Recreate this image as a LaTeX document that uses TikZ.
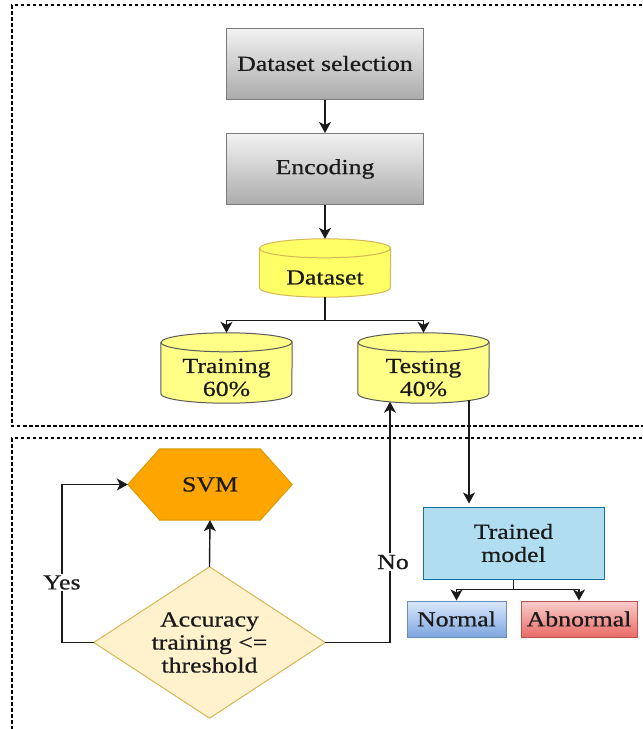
\documentclass[tikz,border=0pt]{standalone}
\usepackage{fontspec}
\setmainfont{Liberation Serif}[FakeStretch=1.2,FakeBold=0.6]
\usetikzlibrary{arrows.meta,backgrounds,calc}

\definecolor{greytop}{HTML}{F2F2F2}
\definecolor{greybot}{HTML}{ABABAB}
\definecolor{greyline}{HTML}{7A7A7A}
\definecolor{dsfill}{HTML}{FFFF66}
\definecolor{dsline}{HTML}{D6B656}
\definecolor{cylfill}{HTML}{FFFF88}
\definecolor{cylline}{HTML}{5A5A5A}
\definecolor{tmfill}{HTML}{B1DDF0}
\definecolor{tmline}{HTML}{10739E}
\definecolor{normtop}{HTML}{DAE8FC}
\definecolor{normbot}{HTML}{7EA6E0}
\definecolor{normline}{HTML}{6C8EBF}
\definecolor{abntop}{HTML}{F8CECC}
\definecolor{abnbot}{HTML}{EA6B66}
\definecolor{abnline}{HTML}{B85450}
\definecolor{svmfill}{HTML}{FFA500}
\definecolor{svmline}{HTML}{D79B00}
\definecolor{diafill}{HTML}{FFF2CC}
\definecolor{dialine}{HTML}{D6B656}
\definecolor{ink}{HTML}{1A1A1A}

% cylinder body drawn round a node that covers the part below the lid
\newcommand\cylshape[4]{%
  \path[fill=#3,draw=#4,line width=1pt]
    ([yshift=9.5pt]#1.north west) -- ([yshift=9.5pt]#1.south west)
    arc[start angle=180,end angle=360,x radius=#2pt,y radius=9.5pt]
    -- ([yshift=9.5pt]#1.north east)
    arc[start angle=0,end angle=180,x radius=#2pt,y radius=9.5pt] -- cycle;
  \draw[draw=#4,line width=1pt] ([yshift=9.5pt]#1.north west)
    arc[start angle=180,end angle=360,x radius=#2pt,y radius=9.5pt];
}

\begin{document}
\begin{tikzpicture}[x=1pt,y=-1pt,
  every node/.style={font=\fontsize{21.5}{23}\selectfont, text=ink, align=center, inner sep=0pt},
  greybox/.style={draw=greyline, line width=1pt, top color=greytop, bottom color=greybot,
    minimum width=197pt, minimum height=71pt},
  cylbody/.style={minimum width=131pt},
  conn/.style={draw=ink, line width=1.4pt, -{Stealth[length=11pt,width=12pt,inset=3pt]}},
  plain/.style={draw=ink, line width=1.4pt},
  frame/.style={draw=black, line width=1.2pt, dash pattern=on 3.5pt off 2.5pt},
  lbl/.style={fill=white, inner sep=1.5pt}
]
\useasboundingbox (0,0) rectangle (643,729);

% dashed section frames
\begin{scope}
  \clip (0,0) rectangle (643,729);
  \draw[frame] (660,5) -- (12,5) -- (12,426) -- (660,426);
  \draw[frame] (660,438) -- (12,438) -- (12,745);
\end{scope}

% upper section
\node[greybox] (sel) at (325,63.5) {Dataset selection};
\node[greybox] (enc) at (325,169) {Encoding};
\node[cylbody, minimum height=39pt] (ds) at (325,277.5) {Dataset};
\node[cylbody, minimum height=51pt] (tr) at (226.5,377.5) {Training\\60\%};
\node[cylbody, minimum height=51pt] (te) at (423.5,377.5) {Testing\\40\%};

% lower section
\node[minimum width=164pt, minimum height=71pt] (svm) at (210,484.5) {SVM};
\node[minimum width=231pt, minimum height=151pt] (dia) at (209.5,642.5) {Accuracy\\training <=\\threshold};
\node[draw=tmline, fill=tmfill, line width=1pt, minimum width=181pt, minimum height=72pt] (tm) at (513.5,543) {Trained\\model};
\node[draw=normline, line width=1pt, top color=normtop, bottom color=normbot,
  minimum width=99pt, minimum height=36pt] (nor) at (456.5,619) {Normal};
\node[draw=abnline, line width=1pt, top color=abntop, bottom color=abnbot,
  minimum width=116pt, minimum height=36pt] (abn) at (579,619) {Abnormal};

\begin{pgfonlayer}{background}
  \cylshape{ds}{65.5}{dsfill}{dsline}
  \cylshape{tr}{65.5}{cylfill}{cylline}
  \cylshape{te}{65.5}{cylfill}{cylline}
  \path[draw=svmline, fill=svmfill, line width=1pt]
    (svm.west) -- ([xshift=32pt]svm.north west) -- ([xshift=-32pt]svm.north east)
    -- (svm.east) -- ([xshift=-32pt]svm.south east) -- ([xshift=32pt]svm.south west) -- cycle;
  \path[draw=dialine, fill=diafill, line width=1pt]
    (dia.north) -- (dia.east) -- (dia.south) -- (dia.west) -- cycle;
\end{pgfonlayer}

% connectors, upper section
\draw[conn] (sel.south) -- (enc.north);
\draw[conn] (enc.south) -- ([yshift=19pt]ds.north);
\draw[plain] (ds.south) -- ++(0,23) coordinate (split);
\draw[conn] (split) -| ([yshift=19pt]tr.north);
\draw[conn] (split) -| ([yshift=19pt]te.north);

% testing set feeds the trained model
\draw[conn] ([xshift=45.5pt,yshift=3pt]te.south) -- ([xshift=45.5pt,yshift=3pt]te.south |- tm.north);

% decision loop
\draw[conn] (dia.north) -- (svm.south);
\draw[conn] (dia.west) -- ++(-32,0) |- node[lbl, pos=0.19] {Yes} (svm.west);
\draw[conn] (dia.east) -| node[lbl, pos=0.667, xshift=3pt] {No} ([xshift=-33.5pt,yshift=1.5pt]te.south);

% classification outcomes
\draw[plain] (tm.south) -- ++(0,10) coordinate (split2);
\draw[conn] (split2) -| (nor.north);
\draw[conn] (split2) -| (abn.north);
\end{tikzpicture}
\end{document}
